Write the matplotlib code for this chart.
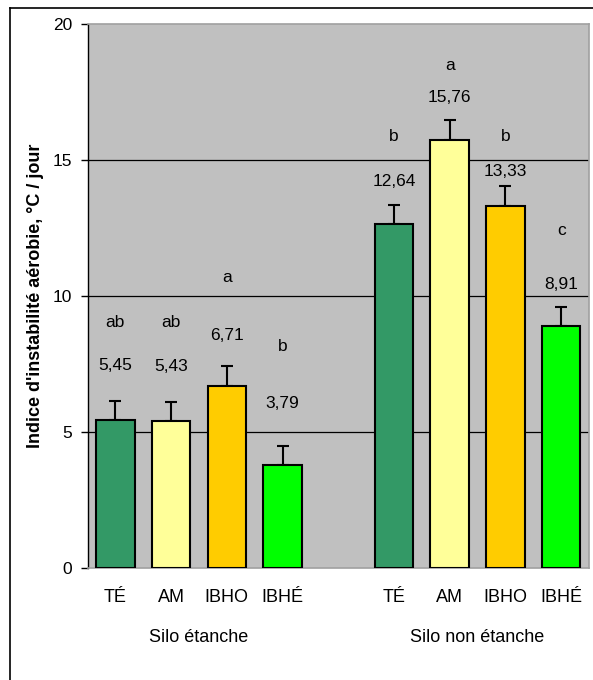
import matplotlib
matplotlib.use("Agg")
import matplotlib.pyplot as plt
from matplotlib.lines import Line2D
import numpy as np

plt.rcParams['font.family'] = ['Liberation Sans', 'DejaVu Sans']

# ---- data ----
categories = ["TÉ", "AM", "IBHO", "IBHÉ"]
groups = ["Silo étanche", "Silo non étanche"]
values_etanche = [5.45, 5.43, 6.71, 3.79]
values_non_etanche = [12.64, 15.76, 13.33, 8.91]
errors_etanche = [0.70, 0.70, 0.72, 0.72]
errors_non_etanche = [0.70, 0.74, 0.72, 0.70]
letters_etanche = ["ab", "ab", "a", "b"]
letters_non_etanche = ["b", "a", "b", "c"]
value_labels_etanche = ["5,45", "5,43", "6,71", "3,79"]
value_labels_non_etanche = ["12,64", "15,76", "13,33", "8,91"]

# layout / style (not data)
colors = ["#339966", "#FFFF99", "#FFCC00", "#00FF00"]
val_offset_etanche = [2.0, 2.0, 1.85, 2.27]
let_offset_etanche = [3.57, 3.59, 3.98, 4.35]
val_offset_non = [1.59, 1.55, 1.27, 1.53]
let_offset_non = [3.25, 2.72, 2.56, 3.51]

W, H = 593, 680
fig = plt.figure(figsize=(W / 100, H / 100), dpi=100)
fig.patch.set_facecolor("white")

# outer frame (top and left visible)
fig.add_artist(Line2D([10 / W, 10 / W], [0, 1 - 8 / H], transform=fig.transFigure,
                      color="black", lw=1.2))
fig.add_artist(Line2D([10 / W, 1], [1 - 8 / H, 1 - 8 / H], transform=fig.transFigure,
                      color="black", lw=1.2))

ax_l, ax_r = 87.5 / W, 589 / W
ax_b, ax_t = 1 - 568.3 / H, 1 - 24.3 / H
ax = fig.add_axes([ax_l, ax_b, ax_r - ax_l, ax_t - ax_b])
ax.set_facecolor("#C0C0C0")

x1 = np.arange(4)
x2 = np.arange(4) + 5

for xs, vals, errs, vlabs, lets, voff, loff in [
    (x1, values_etanche, errors_etanche, value_labels_etanche, letters_etanche,
     val_offset_etanche, let_offset_etanche),
    (x2, values_non_etanche, errors_non_etanche, value_labels_non_etanche, letters_non_etanche,
     val_offset_non, let_offset_non),
]:
    ax.errorbar(xs, vals, yerr=[np.zeros(4), errs], fmt="none", ecolor="black",
                elinewidth=1.5, capsize=4, capthick=1.5, zorder=2)
    ax.bar(xs, vals, width=0.69, color=colors, edgecolor="black", linewidth=1.5, zorder=3)
    for x, v, vl, le, vo, lo in zip(xs, vals, vlabs, lets, voff, loff):
        ax.text(x, v + vo, vl, ha="center", va="center", fontsize=12.5, color="black")
        ax.text(x, v + lo, le, ha="center", va="center", fontsize=12.5, color="black")

ax.set_xlim(-0.5, 8.5)
ax.set_ylim(0, 20)
ax.set_yticks([0, 5, 10, 15, 20])
ax.set_yticklabels(["0", "5", "10", "15", "20"], fontsize=12.5)
for yv in [5, 10, 15]:
    ax.axhline(yv, color="black", lw=0.9, zorder=1)

ax.set_xticks(list(x1) + list(x2))
ax.set_xticklabels(categories + categories, fontsize=13)
ax.tick_params(axis="x", length=0, pad=15)
ax.tick_params(axis="y", length=5, width=1, direction="out", pad=6)

for s in ["top", "right", "bottom"]:
    ax.spines[s].set_color("#A0A0A0")
    ax.spines[s].set_linewidth(1.2)
ax.spines["left"].set_color("black")
ax.spines["left"].set_linewidth(1.0)

# group labels
ax.text(x1.mean(), -2.53, groups[0], ha="center", va="center", fontsize=13,
        transform=ax.transData, clip_on=False)
ax.text(x2.mean(), -2.53, groups[1], ha="center", va="center", fontsize=13,
        transform=ax.transData, clip_on=False)

fig.text(36 / W, 1 - 296 / H, "Indice d'instabilité aérobie, °C / jour", rotation=90,
         ha="center", va="center", fontsize=13, fontweight="bold")

fig.savefig("out.png", dpi=100)
